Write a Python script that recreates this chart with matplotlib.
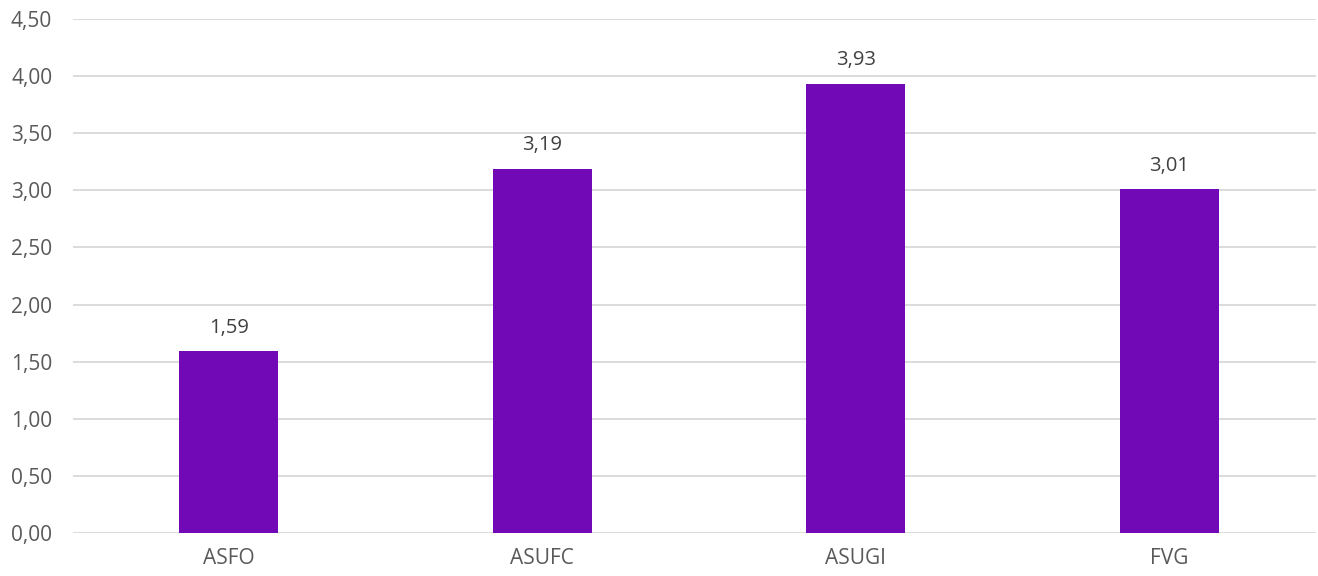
import numpy as np
import matplotlib
matplotlib.use("Agg")
import matplotlib.pyplot as plt

# -- Donnees
categories = ["ASFO", "ASUFC", "ASUGI", "FVG"]
valori = [1.59, 3.19, 3.93, 3.01]
yticks = [0.0, 0.5, 1.0, 1.5, 2.0, 2.5, 3.0, 3.5, 4.0, 4.5]

plt.rcParams['font.family'] = ['Open Sans', 'DejaVu Sans']

fig = plt.figure(figsize=(13.18, 5.76), dpi=100)
ax = fig.add_axes([73 / 1318, 1 - 533 / 576, (1316 - 73) / 1318, (533 - 19) / 576])

x = np.arange(len(categories))
ax.bar(x, valori, width=0.316, color="#7209B7", zorder=3)

# -- Etiquettes des valeurs
for xi, v in zip(x, valori):
    ax.annotate(f"{v:.2f}".replace(".", ","), (xi, v), xytext=(0, 17),
                textcoords="offset points", ha="center", va="center",
                fontsize=14.5, color="#404040")

ax.set_xlim(-0.4976, 3.469)
ax.set_ylim(0, 4.5)
ax.set_yticks(yticks)
ax.set_yticklabels([f"{t:.2f}".replace(".", ",") for t in yticks])
ax.set_xticks(x)
ax.set_xticklabels(categories)

ax.grid(axis="y", color="#d9d9d9", linewidth=1.3, zorder=0)
ax.tick_params(axis="both", length=0, colors="#595959", labelsize=15)
ax.tick_params(axis="x", pad=11)
ax.tick_params(axis="y", pad=15)
for s in ax.spines.values():
    s.set_visible(False)

fig.savefig("out.png", dpi=100)
